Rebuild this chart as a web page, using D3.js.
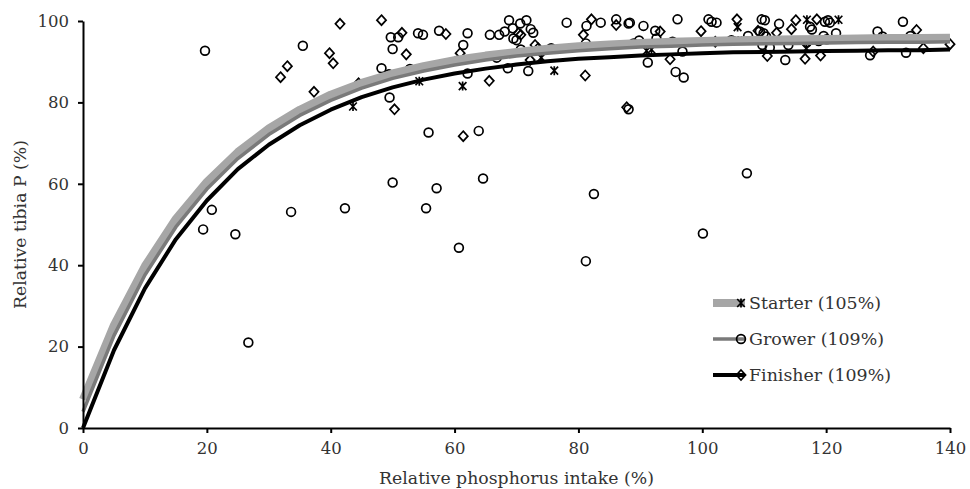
<!DOCTYPE html>
<html>
<head>
<meta charset="utf-8">
<script src="https://cdn.jsdelivr.net/npm/d3@7"></script>
<style>
  body { margin: 0; background: #fff; }
  text { font-family: "DejaVu Serif", serif; fill: #333; }
  .axis path, .axis line { stroke: #000; stroke-width: 2; }
  .axis text { font-size: 16.5px; fill: #333; }
</style>
</head>
<body>
<svg width="970" height="489"></svg>
<script>
const xTicks = [0, 20, 40, 60, 80, 100, 120, 140];
const yTicks = [0, 20, 40, 60, 80, 100];

// fitted curves, read every 5% of intake
const curveX = [0, 5, 10, 15, 20, 25, 30, 35, 40, 45, 50, 55, 60, 65, 70, 75, 80, 85, 90, 95, 100, 105, 110, 115, 120, 125, 130, 135, 140];
const starterCurve = [7, 25.3, 39.8, 51.4, 60.5, 67.8, 73.6, 78.2, 81.9, 84.8, 87.1, 88.9, 90.4, 91.5, 92.4, 93.2, 93.8, 94.2, 94.6, 94.9, 95.1, 95.3, 95.4, 95.5, 95.6, 95.7, 95.8, 95.8, 95.9];
const growerCurve = [4, 22.7, 37.6, 49.4, 58.7, 66.2, 72.1, 76.8, 80.5, 83.5, 85.9, 87.7, 89.2, 90.4, 91.4, 92.1, 92.7, 93.2, 93.6, 93.8, 94.1, 94.3, 94.4, 94.5, 94.6, 94.7, 94.8, 94.8, 94.9];
const finisherCurve = [0, 19.1, 34.3, 46.4, 55.9, 63.6, 69.6, 74.4, 78.2, 81.3, 83.7, 85.6, 87.1, 88.3, 89.3, 90.1, 90.7, 91.1, 91.5, 91.8, 92.1, 92.3, 92.4, 92.5, 92.6, 92.7, 92.8, 92.8, 93.0];

// observations [intake, tibia P]
const starterPts = [
  [43.6, 79.0], [54.3, 85.2], [61.3, 84.0], [74.0, 91.0], [76.1, 87.8], [91.0, 92.7],
  [91.8, 93.0], [105.7, 98.5], [105.8, 95.2], [116.9, 100.3], [116.8, 93.2], [122.0, 100.3]
];
const growerPts = [
  [19.7, 92.7], [19.4, 48.8], [20.8, 53.6], [24.6, 47.6], [26.7, 21.0], [33.6, 53.1], [35.5, 93.9], [42.3, 54.0],
  [49.7, 96.0], [50.9, 96.0], [50.0, 93.1], [54.1, 97.0], [54.9, 96.6], [57.5, 97.6], [62.1, 97.0], [61.4, 94.1],
  [65.7, 96.6], [67.2, 96.6], [68.8, 100.2], [68.1, 97.4], [69.4, 98.2], [69.5, 95.7], [70.0, 95.3], [70.6, 99.4],
  [71.6, 100.2], [70.7, 93.0], [66.8, 91.0], [48.2, 88.4], [49.4, 86.9], [52.8, 88.2], [62.1, 87.1], [68.6, 88.4],
  [71.9, 87.7], [49.5, 81.2], [55.8, 72.6], [63.9, 73.0], [50.0, 60.3], [57.1, 58.9], [64.6, 61.3], [55.4, 54.0],
  [60.7, 44.3], [72.3, 98.0], [72.7, 97.1], [75.6, 93.3], [78.1, 99.6], [81.3, 98.8], [83.6, 99.6], [81.2, 94.5],
  [86.1, 100.4], [88.1, 99.4], [88.3, 99.6], [90.5, 98.8], [92.4, 97.6], [92.6, 95.7], [96.0, 100.4], [88.9, 94.5],
  [89.8, 95.2], [95.2, 94.9], [96.8, 92.5], [91.2, 89.8], [95.7, 87.5], [97.0, 86.1], [88.1, 78.3], [81.2, 41.0],
  [82.5, 57.5], [100.1, 47.8], [107.2, 62.6], [101.0, 100.4], [101.5, 99.8], [102.3, 99.6], [104.7, 95.3], [107.4, 96.3],
  [109.6, 100.4], [110.1, 100.2], [109.3, 97.4], [109.9, 97.0], [110.3, 96.2], [112.4, 99.3], [117.4, 98.6], [117.7, 97.9],
  [119.8, 99.8], [120.3, 100.2], [120.6, 99.6], [121.6, 97.0], [119.6, 96.3], [120.1, 95.5], [118.8, 95.1], [116.9, 94.8],
  [113.9, 94.1], [113.4, 90.4], [109.7, 94.1], [110.9, 93.5], [127.1, 91.6], [132.4, 99.8], [128.3, 97.4], [129.1, 96.2],
  [133.6, 96.3], [132.9, 92.2]
];
const finisherPts = [
  [41.5, 99.3], [33.0, 88.9], [31.9, 86.2], [39.8, 92.1], [40.4, 89.6], [37.3, 82.6], [44.5, 84.7], [48.2, 100.2],
  [51.5, 97.1], [52.2, 91.8], [58.6, 96.8], [60.9, 92.1], [70.3, 97.0], [65.6, 85.3], [50.3, 78.3], [61.4, 71.7],
  [70.7, 96.6], [73.0, 94.1], [73.5, 93.3], [72.2, 90.4], [82.1, 100.4], [80.8, 96.6], [86.1, 99.0], [93.2, 97.4],
  [94.8, 90.6], [81.1, 86.6], [87.8, 78.8], [99.8, 97.5], [102.1, 94.9], [105.6, 100.4], [109.0, 97.6], [110.5, 91.4],
  [112.0, 97.1], [114.4, 98.0], [115.1, 100.2], [118.5, 100.4], [116.6, 90.7], [119.1, 91.5], [127.6, 92.5], [134.6, 97.8],
  [135.7, 93.3], [140.0, 94.3]
];
const seriesNames = ["Starter (105%)", "Grower (109%)", "Finisher (109%)"];

const svg = d3.select("svg");
const margin = { top: 21, right: 20, bottom: 61, left: 83 };
const width = svg.attr("width") - margin.left - margin.right;
const height = svg.attr("height") - margin.top - margin.bottom;
const g = svg.append("g").attr("transform", `translate(${margin.left},${margin.top})`);

const x = d3.scaleLinear().domain([0, 140]).range([0, width]);
const y = d3.scaleLinear().domain([0, 100]).range([height, 0]);

const line = d3.line()
  .x(d => x(d[0]))
  .y(d => y(d[1]));

// marker shapes
const circle = (sel) => sel.append("circle").attr("r", 4.4);
const diamond = (sel) => sel.append("path").attr("d", "M0,-5L4.6,0L0,5L-4.6,0Z");
const star = (sel) => sel.append("path").attr("d", "M-3.8,-4L3.8,4M-3.8,4L3.8,-4M0,-4.5V4.5");

const series = [
  { name: seriesNames[0], curve: starterCurve, pts: starterPts, color: "#a6a6a6", w: 8, marker: star },
  { name: seriesNames[1], curve: growerCurve, pts: growerPts, color: "#7a7a7a", w: 3.5, marker: circle },
  { name: seriesNames[2], curve: finisherCurve, pts: finisherPts, color: "#000", w: 4, marker: diamond }
];

// scatter first, curves over them
series.forEach(s => {
  g.append("g").selectAll("g")
    .data(s.pts)
    .join("g")
    .attr("transform", d => `translate(${x(d[0])},${y(d[1])})`)
    .each(function() {
      s.marker(d3.select(this))
        .attr("fill", "none")
        .attr("stroke", "#000")
        .attr("stroke-width", 1.7);
    });
});

series.forEach(s => {
  g.append("path")
    .datum(curveX.map((v, i) => [v, s.curve[i]]))
    .attr("fill", "none")
    .attr("stroke", s.color)
    .attr("stroke-width", s.w)
    .attr("stroke-linejoin", "round")
    .attr("d", line);
});

g.append("g")
  .attr("class", "axis")
  .attr("transform", `translate(0,${height})`)
  .call(d3.axisBottom(x).tickValues(xTicks).tickSize(5).tickSizeOuter(0).tickPadding(9));

g.append("g")
  .attr("class", "axis")
  .call(d3.axisLeft(y).tickValues(yTicks).tickSize(5).tickSizeOuter(0).tickPadding(9));

svg.append("text")
  .attr("x", margin.left + width / 2)
  .attr("y", 484)
  .attr("text-anchor", "middle")
  .attr("font-size", "17.3px")
  .text("Relative phosphorus intake (%)");

svg.append("text")
  .attr("transform", `translate(26,${margin.top + height / 2}) rotate(-90)`)
  .attr("text-anchor", "middle")
  .attr("font-size", "17.3px")
  .text("Relative tibia P (%)");

// legend
const legend = svg.append("g").attr("transform", "translate(713,303)");
series.forEach((s, i) => {
  const row = legend.append("g").attr("transform", `translate(0,${i * 36})`);
  row.append("line")
    .attr("x1", 0).attr("x2", 32)
    .attr("stroke", s.color)
    .attr("stroke-width", s.w);
  const m = row.append("g").attr("transform", "translate(28,0)");
  s.marker(m).attr("fill", "none").attr("stroke", "#000").attr("stroke-width", 1.7);
  row.append("text")
    .attr("x", 36)
    .attr("dy", "0.35em")
    .attr("font-size", "17.4px")
    .text(s.name);
});
</script>
</body>
</html>
